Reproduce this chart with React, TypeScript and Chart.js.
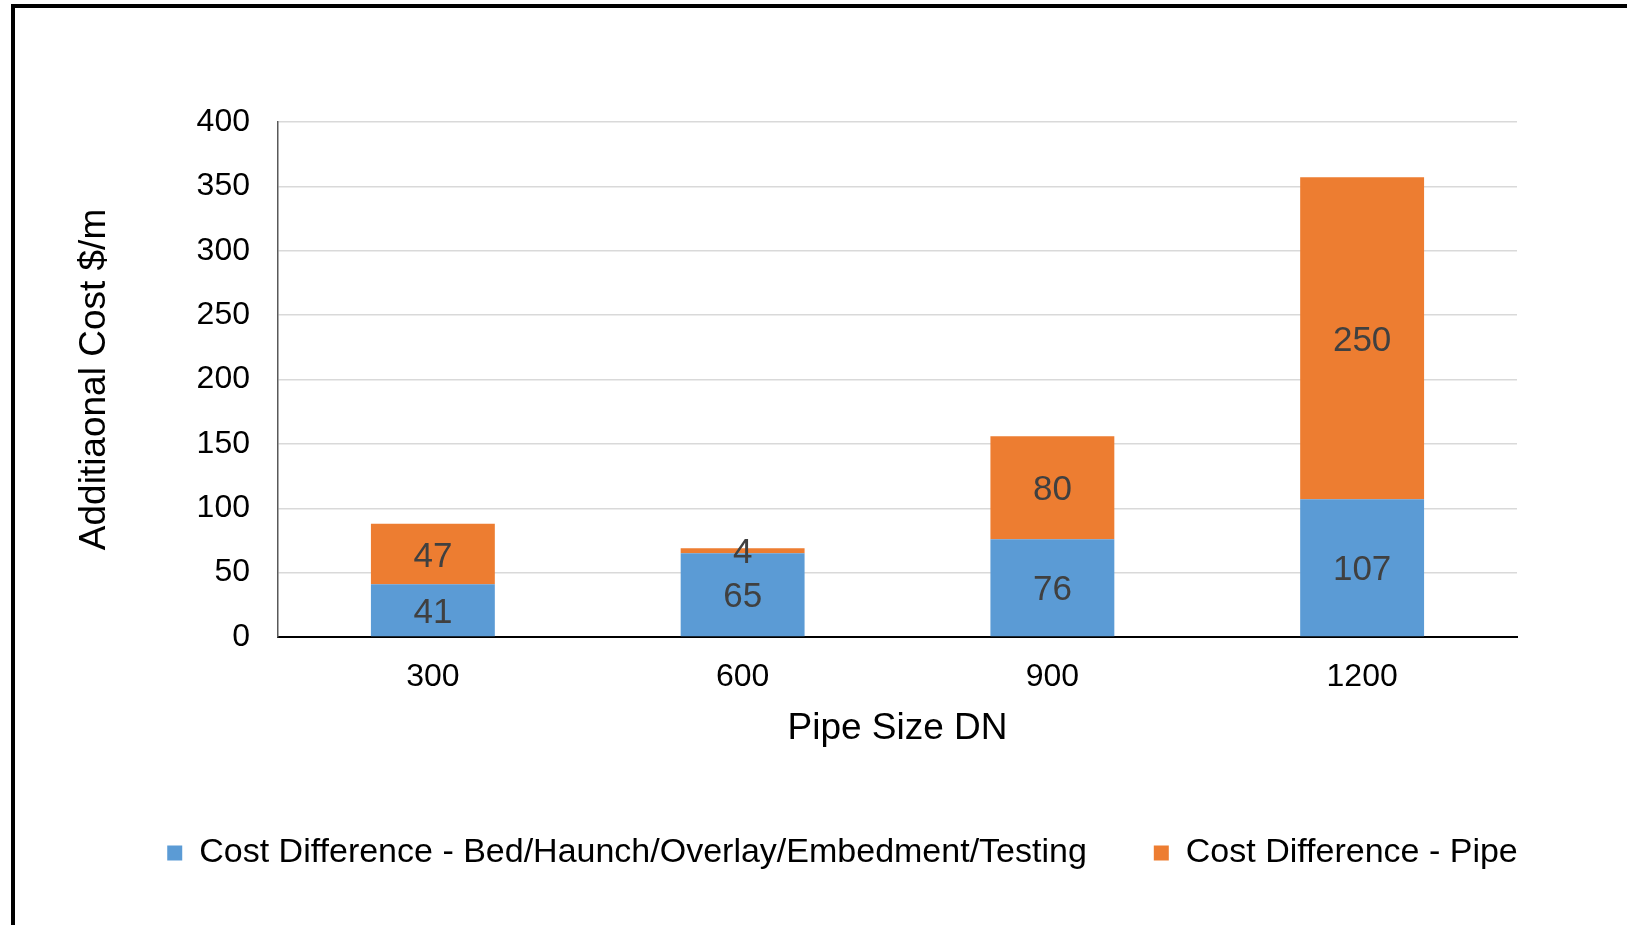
import React, { useEffect, useRef } from "react";
import { Chart, registerables } from "chart.js";

Chart.register(...registerables);

const categories = ["300", "600", "900", "1200"];
const beddingCost = [41, 65, 76, 107];
const pipeCost = [47, 4, 80, 250];
const seriesNames = [
  "Cost Difference - Bed/Haunch/Overlay/Embedment/Testing",
  "Cost Difference - Pipe",
];
const yMin = 0;
const yMax = 400;
const yStep = 50;
const xTitle = "Pipe Size DN";
const yTitle = "Additiaonal Cost $/m";

const FONT = "'Liberation Sans', Arial, sans-serif";

const valueLabels = {
  id: "valueLabels",
  afterDatasetsDraw(chart: any) {
    const ctx = chart.ctx;
    ctx.save();
    ctx.font = `35px ${FONT}`;
    ctx.fillStyle = "#404040";
    ctx.textAlign = "center";
    ctx.textBaseline = "middle";
    chart.data.datasets.forEach((ds: any, i: number) => {
      const meta = chart.getDatasetMeta(i);
      meta.data.forEach((el: any, j: number) => {
        const { x, y, base } = el.getProps(["x", "y", "base"], true);
        ctx.fillText(String(ds.data[j]), x, (y + base) / 2 + 3);
      });
    });
    ctx.restore();
  },
};

export default function App() {
  const ref = useRef<HTMLCanvasElement | null>(null);

  useEffect(() => {
    if (!ref.current) return;
    const chart = new Chart(ref.current, {
      type: "bar",
      data: {
        labels: categories,
        datasets: [
          {
            label: seriesNames[0],
            data: beddingCost,
            backgroundColor: "#5B9BD5",
            borderWidth: 0,
            categoryPercentage: 1,
            barPercentage: 0.4,
          },
          {
            label: seriesNames[1],
            data: pipeCost,
            backgroundColor: "#ED7D31",
            borderWidth: 0,
            categoryPercentage: 1,
            barPercentage: 0.4,
          },
        ],
      },
      options: {
        responsive: false,
        animation: false,
        layout: { padding: { left: 58, right: 0, top: 122, bottom: 45 } },
        plugins: {
          tooltip: { enabled: false },
          legend: {
            position: "bottom",
            labels: {
              font: { family: FONT, size: 34 },
              color: "#000",
              boxWidth: 15,
              boxHeight: 15,
              padding: 67,
            },
          },
        },
        scales: {
          x: {
            stacked: true,
            grid: { display: false, drawTicks: false },
            border: { display: true, color: "#000", width: 2 },
            ticks: {
              font: { family: FONT, size: 32 },
              color: "#000",
              padding: 21,
            },
            title: {
              display: true,
              text: xTitle,
              font: { family: FONT, size: 37 },
              color: "#000",
              padding: { top: 0, bottom: 18 },
            },
            afterFit: (s: any) => {
              s.height = 132;
            },
          },
          y: {
            stacked: true,
            min: yMin,
            max: yMax,
            ticks: {
              stepSize: yStep,
              font: { family: FONT, size: 32 },
              color: "#000",
              padding: 28,
            },
            grid: { color: "#D9D9D9", lineWidth: 1.5, drawTicks: false },
            border: { display: true, color: "#595959", width: 1.5 },
            title: {
              display: true,
              text: yTitle,
              font: { family: FONT, size: 37 },
              color: "#000",
              padding: { top: 15, bottom: 0 },
            },
            afterFit: (s: any) => {
              s.width = 220;
            },
          },
          yRight: {
            position: "right",
            display: true,
            grid: { display: false, drawTicks: false },
            border: { display: false },
            ticks: { display: false },
            afterFit: (s: any) => {
              s.width = 110;
            },
          },
        },
      },
      plugins: [valueLabels],
    } as any);
    return () => chart.destroy();
  }, []);

  return (
    <div
      style={{
        position: "fixed",
        left: 0,
        top: 0,
        width: 1627,
        height: 925,
        overflow: "hidden",
        background: "#fff",
      }}
    >
      <canvas ref={ref} width={1627} height={925} style={{ display: "block" }} />
      <div
        style={{
          position: "absolute",
          left: 11,
          top: 4,
          width: 3000,
          height: 3000,
          borderTop: "4px solid #000",
          borderLeft: "4px solid #000",
          pointerEvents: "none",
        }}
      />
    </div>
  );
}
